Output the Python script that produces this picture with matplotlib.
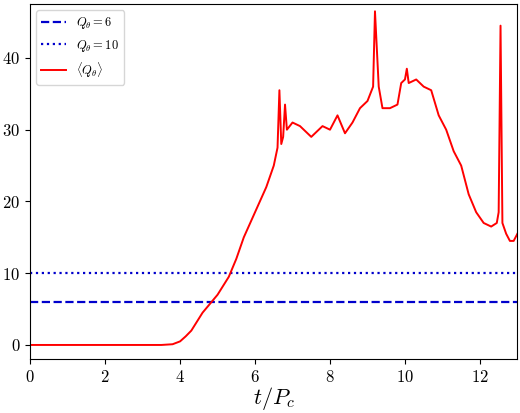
import matplotlib
matplotlib.use('Agg')
import matplotlib.pyplot as plt
import numpy as np

plt.rcParams['font.family'] = 'serif'
plt.rcParams['font.serif'] = ['cmr10', 'DejaVu Serif']
plt.rcParams['mathtext.fontset'] = 'cm'
plt.rcParams['axes.formatter.use_mathtext'] = True

t = [0, 1, 2, 3, 3.5, 3.8, 4.0, 4.15, 4.3, 4.6, 5.0, 5.3, 5.5, 5.7, 6.0, 6.3, 6.5, 6.6,
     6.65, 6.7, 6.75, 6.8, 6.85, 7.0, 7.2, 7.5, 7.8, 8.0, 8.2, 8.4, 8.6, 8.8, 9.0, 9.15,
     9.2, 9.3, 9.4, 9.6, 9.8, 9.9, 10.0, 10.05, 10.1, 10.3, 10.5, 10.7, 10.9, 11.1, 11.3,
     11.5, 11.7, 11.9, 12.1, 12.3, 12.45, 12.5, 12.55, 12.6, 12.7, 12.8, 12.9, 13.0]
q = [0, 0, 0, 0, 0, 0.1, 0.5, 1.2, 2, 4.5, 7, 9.5, 12, 15, 18.5, 22, 25, 27.5,
     35.5, 28, 29, 33.5, 30, 31, 30.5, 29, 30.5, 30, 32, 29.5, 31, 33, 34, 36,
     46.5, 36, 33, 33, 33.5, 36.5, 37, 38.5, 36.5, 37, 36, 35.5, 32, 30, 27,
     25, 21, 18.5, 17, 16.5, 17, 18.5, 44.5, 17, 15.5, 14.5, 14.5, 15.5]

fig, ax = plt.subplots(figsize=(5.2, 4.13), dpi=100)
ax.axhline(6, color='#0000cc', ls='--', lw=1.6, label=r'$Q_\theta = 6$')
ax.axhline(10, color='#0000cc', ls=':', lw=1.6, label=r'$Q_\theta = 10$')
ax.plot(t, q, color='red', lw=1.4, label=r'$\langle Q_\theta \rangle$')
ax.set_xlim(0, 13)
ax.set_ylim(-2, 47.5)
ax.set_xticks([0, 2, 4, 6, 8, 10, 12])
ax.set_yticks([0, 10, 20, 30, 40])
ax.tick_params(labelsize=12)
ax.set_xlabel(r'$t/P_c$', fontsize=16, labelpad=0)
ax.legend(loc='upper left', fontsize=9)
fig.subplots_adjust(left=0.058, right=0.995, top=0.99, bottom=0.13)
fig.savefig('out.png')
